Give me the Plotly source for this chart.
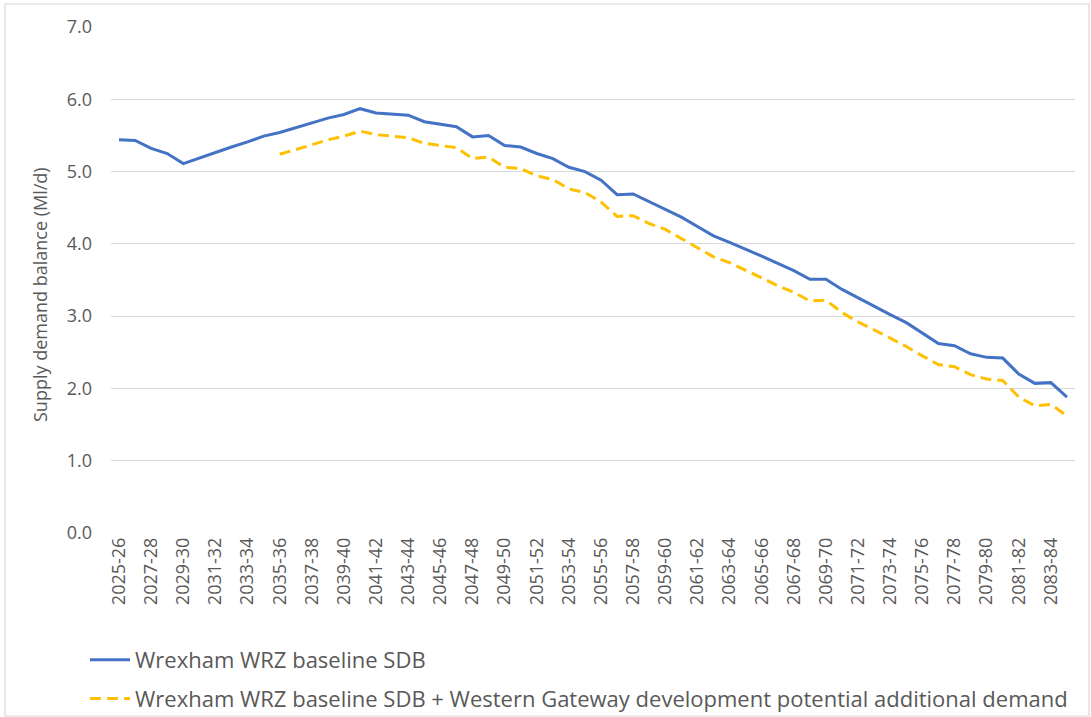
import plotly.graph_objects as go

categories = [
    "2025-26", "2026-27", "2027-28", "2028-29", "2029-30", "2030-31", "2031-32", "2032-33",
    "2033-34", "2034-35", "2035-36", "2036-37", "2037-38", "2038-39", "2039-40", "2040-41",
    "2041-42", "2042-43", "2043-44", "2044-45", "2045-46", "2046-47", "2047-48", "2048-49",
    "2049-50", "2050-51", "2051-52", "2052-53", "2053-54", "2054-55", "2055-56", "2056-57",
    "2057-58", "2058-59", "2059-60", "2060-61", "2061-62", "2062-63", "2063-64", "2064-65",
    "2065-66", "2066-67", "2067-68", "2068-69", "2069-70", "2070-71", "2071-72", "2072-73",
    "2073-74", "2074-75", "2075-76", "2076-77", "2077-78", "2078-79", "2079-80", "2080-81",
    "2081-82", "2082-83", "2083-84", "2084-85",
]

baseline_sdb = [
    5.44, 5.43, 5.32, 5.25, 5.11, 5.19, 5.27, 5.34, 5.41, 5.49,
    5.54, 5.61, 5.67, 5.74, 5.79, 5.87, 5.81, 5.79, 5.78, 5.69,
    5.65, 5.62, 5.48, 5.50, 5.36, 5.34, 5.25, 5.18, 5.06, 5.00,
    4.88, 4.68, 4.69, 4.58, 4.48, 4.37, 4.24, 4.11, 4.02, 3.93,
    3.83, 3.73, 3.63, 3.51, 3.51, 3.37, 3.25, 3.14, 3.02, 2.91,
    2.76, 2.62, 2.59, 2.48, 2.43, 2.42, 2.20, 2.07, 2.08, 1.88,
]

western_gateway_sdb = [
    None, None, None, None, None, None, None, None, None, None,
    5.24, 5.30, 5.37, 5.44, 5.49, 5.56, 5.51, 5.49, 5.47, 5.39,
    5.36, 5.33, 5.18, 5.20, 5.06, 5.04, 4.94, 4.89, 4.76, 4.71,
    4.58, 4.38, 4.39, 4.28, 4.20, 4.07, 3.94, 3.82, 3.74, 3.64,
    3.53, 3.42, 3.33, 3.21, 3.22, 3.05, 2.92, 2.81, 2.70, 2.58,
    2.45, 2.33, 2.30, 2.19, 2.13, 2.11, 1.88, 1.76, 1.78, 1.62,
]

tick_labels = [
    "2025-26", "2027-28", "2029-30", "2031-32", "2033-34", "2035-36", "2037-38", "2039-40",
    "2041-42", "2043-44", "2045-46", "2047-48", "2049-50", "2051-52", "2053-54", "2055-56",
    "2057-58", "2059-60", "2061-62", "2063-64", "2065-66", "2067-68", "2069-70", "2071-72",
    "2073-74", "2075-76", "2077-78", "2079-80", "2081-82", "2083-84",
]

y_ticks = [0, 1, 2, 3, 4, 5, 6, 7]

series_names = [
    "Wrexham WRZ baseline SDB",
    "Wrexham WRZ baseline SDB + Western Gateway development potential additional demand",
]
y_title = "Supply demand balance (Ml/d)"

FONT = "Open Sans, Liberation Sans, sans-serif"
TXT = "#595959"

fig = go.Figure()
fig.add_trace(go.Scatter(
    x=categories, y=baseline_sdb, mode="lines", name=series_names[0],
    line=dict(color="#4472C4", width=3), legendgroup="a",
))
fig.add_trace(go.Scatter(
    x=categories, y=western_gateway_sdb, mode="lines", name=series_names[1],
    line=dict(color="#FFC000", width=3, dash="11px,6px"), legendgroup="b",
    connectgaps=False,
))

# plot area (page pixels): x 111..1075, y 27..533
L, R, T, B = 111, 1075, 27, 533
W, H = 1091, 717
pw, ph = R - L, B - T

fig.add_shape(
    type="rect", xref="paper", yref="paper",
    x0=(5 - L) / pw, x1=(1089 - L) / pw,
    y0=(B - 716) / ph, y1=(B - 4) / ph,
    line=dict(color="#d9d9d9", width=1.2), fillcolor="rgba(0,0,0,0)", layer="below",
)

fig.add_annotation(
    text=y_title, textangle=-90, showarrow=False,
    xref="paper", yref="paper", x=(40 - L) / pw, y=(B - 295) / ph,
    xanchor="center", yanchor="middle",
    font=dict(family=FONT, size=18, color=TXT),
)

fig.update_layout(
    width=W, height=H,
    margin=dict(l=L, r=W - R, t=T, b=H - B, autoexpand=False),
    paper_bgcolor="white", plot_bgcolor="white",
    font=dict(family=FONT, color=TXT, size=18),
    showlegend=True,
    legend=dict(
        orientation="v", xref="container", yref="container",
        x=85 / W, y=1 - 639 / H, xanchor="left", yanchor="top",
        font=dict(family=FONT, size=22, color=TXT),
        tracegroupgap=7, itemwidth=40, bgcolor="rgba(0,0,0,0)",
    ),
    xaxis=dict(
        type="category", range=[-0.5, len(categories) - 0.5],
        tickmode="array", tickvals=tick_labels, ticktext=tick_labels,
        tickangle=-90, tickfont=dict(size=18, color=TXT),
        showgrid=False, showline=False, ticks="", zeroline=False,
        automargin=False,
    ),
    yaxis=dict(
        range=[0, 7], tickmode="array", tickvals=y_ticks, tickformat=".1f",
        tickfont=dict(size=18, color=TXT),
        showgrid=True, gridcolor="#d9d9d9", gridwidth=1.3,
        zeroline=False, showline=False, ticks="", ticklabelstandoff=18,
        automargin=False,
    ),
)

fig.write_html(
    "out.html",
    config={"displayModeBar": False},
    post_script="document.body.style.margin='0';document.body.style.overflow='hidden';",
)
